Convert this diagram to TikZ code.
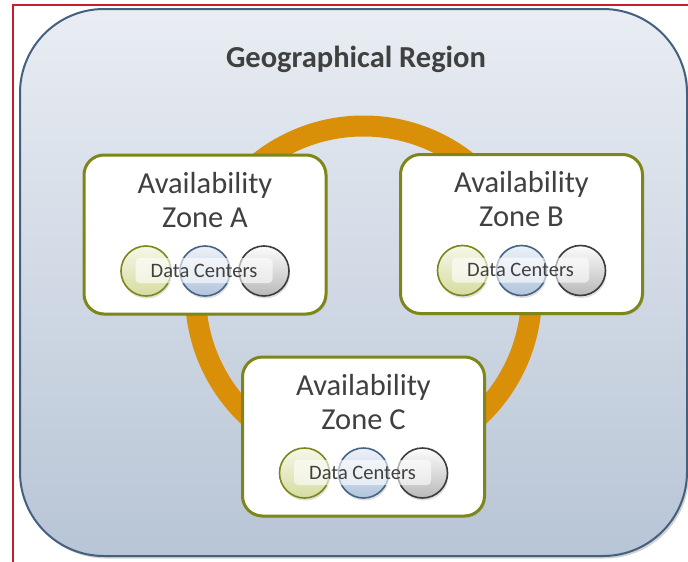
\documentclass[tikz,border=0pt]{standalone}
\usepackage{fontspec}
\setmainfont{Carlito}
\usetikzlibrary{shadows}
\definecolor{framered}{RGB}{200,30,40}
\definecolor{regionedge}{RGB}{68,96,127}
\definecolor{regiontop}{RGB}{233,237,243}
\definecolor{regionbot}{RGB}{184,197,214}
\definecolor{ringorange}{RGB}{217,144,8}
\definecolor{olive}{RGB}{125,135,25}
\definecolor{textgray}{RGB}{64,64,64}
\definecolor{greentop}{RGB}{246,247,232}
\definecolor{greenbot}{RGB}{214,220,160}
\definecolor{bluetop}{RGB}{236,241,247}
\definecolor{bluebot}{RGB}{178,197,220}
\definecolor{blueedge}{RGB}{70,100,135}
\definecolor{graytop}{RGB}{252,252,252}
\definecolor{graybot}{RGB}{185,185,185}
\definecolor{grayedge}{RGB}{60,60,60}
\tikzset{
  zonebox/.style={draw=olive, line width=3pt, fill=white, rounded corners=20pt,
    minimum width=242pt, minimum height=159pt, inner sep=0pt,
    drop shadow={opacity=0.15, shadow xshift=1.5pt, shadow yshift=-2pt}},
  zonetext/.style={anchor=base, text=textgray, font=\fontsize{30.5}{34}\selectfont, inner sep=0pt},
  dc/.style={circle, minimum size=50pt, inner sep=0pt, line width=1.6pt,
    drop shadow={opacity=0.25, shadow xshift=1pt, shadow yshift=-2.5pt}},
  dcgreen/.style={dc, draw=olive, top color=greentop, bottom color=greenbot},
  dcblue/.style={dc, draw=blueedge, top color=bluetop, bottom color=bluebot},
  dcgray/.style={dc, draw=grayedge, top color=graytop, bottom color=graybot},
  dclabel/.style={fill=white, fill opacity=0.6, text opacity=1, rounded corners=4pt,
    minimum width=137pt, minimum height=25pt, inner sep=0pt, text=textgray,
    font=\fontsize{20.5}{22}\selectfont},
}
\newcommand\azone[4]{% name, x, y, letter
  \node[zonebox] (#1) at (#2,#3) {};
  \node[zonetext] (#1t1) at (#2,#3-41.5) {Availability};
  \node[zonetext] (#1t2) at (#2,#3-7.5) {Zone #4};
  \node[dcgreen] (#1c1) at (#2-59,#3+36.5) {};
  \node[dcblue]  (#1c2) at (#2,#3+36.5) {};
  \node[dcgray]  (#1c3) at (#2+59,#3+36.5) {};
  \node[dclabel] (#1dc) at (#2-1,#3+36) {Data Centers};
}
\begin{document}
\begin{tikzpicture}[x=1pt,y=-1pt]
\useasboundingbox (0,0) rectangle (688,562);
\clip (0,0) rectangle (688,562);
\fill[white] (0,0) rectangle (688,562);
\draw[framered, line width=2pt] (13,5) rectangle (720,600);
\draw[regionedge, line width=2pt, rounded corners=84pt, top color=regiontop, bottom color=regionbot,
  drop shadow={opacity=0.35, shadow xshift=2pt, shadow yshift=-2.5pt}]
  (20,9) rectangle (687,556);
\node[anchor=base, text=textgray, font=\bfseries\fontsize{30.5}{34}\selectfont, inner sep=0pt] (title) at (356,67) {Geographical Region};
\node[circle, draw=ringorange, line width=21pt, minimum size=336pt, inner sep=0pt] (ring) at (363.5,294) {};
\azone{za}{205}{234.5}{A}
\azone{zb}{521.5}{234}{B}
\azone{zc}{363.5}{436.5}{C}
\end{tikzpicture}
\end{document}
